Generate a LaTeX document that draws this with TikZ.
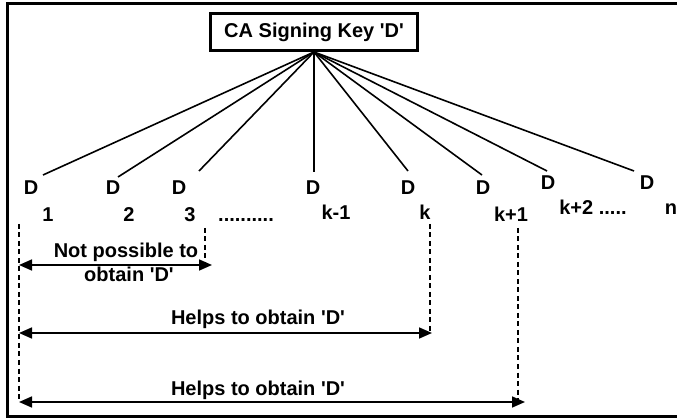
\documentclass[tikz,border=0pt]{standalone}
\usepackage{fontspec}
\setmainfont{Liberation Sans}
\usetikzlibrary{arrows.meta}

\begin{document}
\begin{tikzpicture}[x=1pt,y=-1pt,>={Triangle[length=13pt,width=11pt]},
  lbl/.style={font=\bfseries\fontsize{20}{23}\selectfont,inner sep=0pt},
  fan/.style={line width=1.6pt},
  guide/.style={line width=1.3pt,dash pattern=on 5pt off 3.5pt},
  span/.style={<->,line width=1.6pt}]
\useasboundingbox (0,0) rectangle (677,419);
% outer frame (open on the right)
\draw[line width=3pt] (677,4) -- (7,4) -- (7,416) -- (677,416);
\node[draw,line width=3pt,minimum width=207pt,minimum height=37pt,lbl] (key) at (314,32) {CA Signing Key \textquotesingle D\textquotesingle};
% one share D per user, fanned out from the key
\foreach \i/\ex/\ey/\dx/\dy in {1/43/175/31/195, 2/118/177/113/195, 3/199/171/179/195,
    km/314/172/313/195, k/408/171/408/195, kp/482/175/483/195,
    kpp/547/171/548/190, n/634/171/647/190}{
  \coordinate (e\i) at (\ex,\ey);
  \node[lbl,anchor=base] (d\i) at (\dx,\dy) {D};
  \draw[fan] (key.south) -- (e\i);
}
% user indices
\foreach \i/\t/\nx/\ny in {1/1/48/222, 2/2/129/222, 3/3/190/222,
    km/k-1/336/220, k/k/425/220, kp/k+1/511/222, n/n/671/215}{
  \node[lbl,anchor=base] (n\i) at (\nx,\ny) {\t};
}
\node[lbl,anchor=base] (ndots) at (246,222) {..........};
\node[lbl,anchor=base] (nkpp) at (593,215) {k+2 .....};
\coordinate (g0) at (19,224);
\coordinate (g3) at (205,228);
\coordinate (gk) at (430,224);
\coordinate (gkp) at (518,228);
\coordinate (s1l) at (19,265);  \coordinate (s1r) at (212,265);
\coordinate (s2l) at (19,333);  \coordinate (s2r) at (432,333);
\coordinate (s3l) at (19,402);  \coordinate (s3r) at (525,402);
\draw[guide] (g0) -- (s3l);
\draw[guide] (g3) -- (g3 |- s1r);
\draw[guide] (gk) -- (gk |- s2r);
\draw[guide] (gkp) -- (gkp |- s3r);
\draw[span] (s1l) -- (s1r);
\draw[span] (s2l) -- (s2r);
\draw[span] (s3l) -- (s3r);
\node[lbl,anchor=base] (np) at (126,258) {Not possible to};
\node[lbl,anchor=base] (nob) at (129,282) {obtain \textquotesingle D\textquotesingle};
\node[lbl,anchor=base] (h1) at (258,325) {Helps to obtain \textquotesingle D\textquotesingle};
\node[lbl,anchor=base] (h2) at (258,395) {Helps to obtain \textquotesingle D\textquotesingle};
\end{tikzpicture}
\end{document}
